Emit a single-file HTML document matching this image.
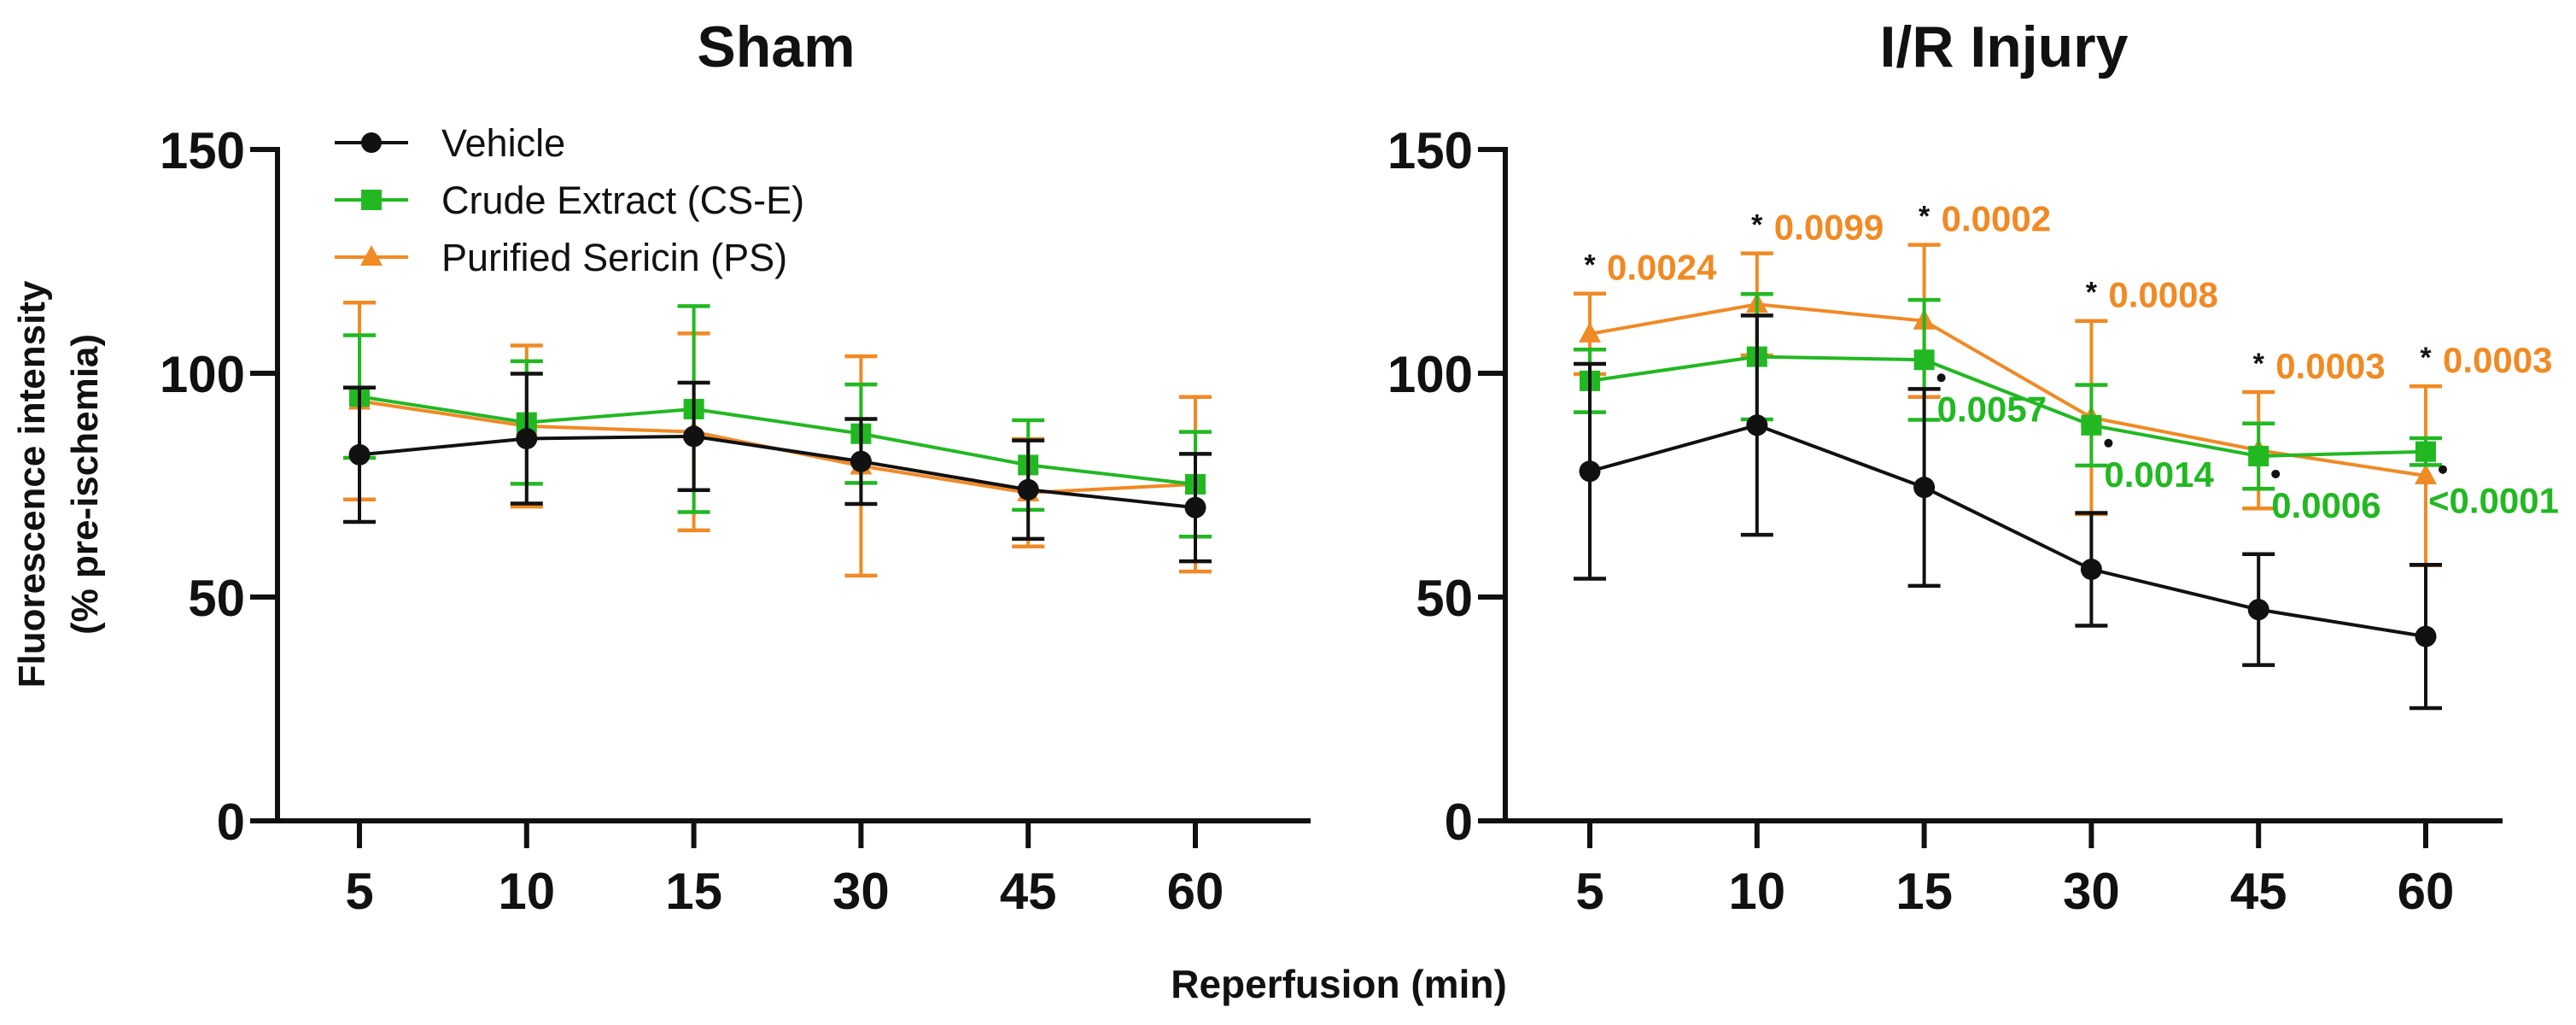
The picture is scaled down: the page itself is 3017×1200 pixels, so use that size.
<!DOCTYPE html>
<html><head><meta charset="utf-8"><style>
html,body{margin:0;padding:0;background:#fff;}
svg{display:block;font-family:"Liberation Sans",sans-serif;}
</style></head><body>
<svg id="chart" width="3017" height="1200" viewBox="0 0 3017 1200" xmlns="http://www.w3.org/2000/svg"></svg>
<script>
const categories = ["5","10","15","30","45","60"];
const yTicks = [0,50,100,150];
const shamVehicle = [81.8,85.4,85.9,80.3,74,70];
const shamVehicleSD = [15,14.5,12,9.5,11,12];
const shamCSE = [94.8,89,92,86.5,79.5,75.2];
const shamCSESD = [13.7,13.7,23,11,10,11.7];
const shamPS = [93.8,88.2,86.9,79.3,73.3,75.2];
const shamPSSD = [22,18,22,24.5,12,19.5];
const irVehicle = [78.1,88.4,74.5,56.2,47.2,41.2];
const irVehicleSD = [24,24.5,22,12.6,12.4,16];
const irCSE = [98.3,103.7,103,88.4,81.5,82.5];
const irCSESD = [7,14,13.4,9,7.3,3];
const irPS = [108.8,115.4,111.7,90.1,82.8,77.1];
const irPSSD = [9,11.4,17,21.6,13,20];
const psPvals = ["0.0024","0.0099","0.0002","0.0008","0.0003","0.0003"];
const csePvals = ["","","0.0057","0.0014","0.0006","<0.0001"];

const NS="http://www.w3.org/2000/svg";
const svg=document.getElementById('chart');
const BLACK="#111", GREEN="#22b822", ORANGE="#f08a24";
function mk(tag,attrs,parent){const e=document.createElementNS(NS,tag);for(const k in attrs)e.setAttribute(k,attrs[k]);(parent||svg).appendChild(e);return e;}
function yScale(v){return 961-(v/150)*(961-175);}

function panel(name,axisX,catX0,axisEnd,title,titleX,series){
  const g=mk('g',{});
  
  
  const xS=i=>catX0+i*195.8;
  const t=mk('text',{x:titleX,y:78,'text-anchor':'middle','font-size':68,'font-weight':'bold',fill:BLACK},g);
  t.textContent=title;
  
  
  const ya=mk('line',{x1:axisX,y1:172,x2:axisX,y2:964,stroke:BLACK,'stroke-width':6},g);
  
  
  const xa=mk('line',{x1:axisX-32,y1:961,x2:axisEnd,y2:961,stroke:BLACK,'stroke-width':6},g);
  
  
  yTicks.forEach(v=>{
    const y=yScale(v);
    mk('line',{x1:axisX-32,y1:y,x2:axisX,y2:y,stroke:BLACK,'stroke-width':6},g);
    const l=mk('text',{x:axisX-38,y:y+22,'text-anchor':'end','font-size':60,'font-weight':'bold',fill:BLACK},g);
    l.textContent=v;
    
    
  });
  categories.forEach((c,i)=>{
    const x=xS(i);
    mk('line',{x1:x,y1:961,x2:x,y2:993,stroke:BLACK,'stroke-width':6},g);
    const l=mk('text',{x:x,y:1064,'text-anchor':'middle','font-size':60,'font-weight':'bold',fill:BLACK},g);
    l.textContent=c;
    
    
  });
  series.forEach(s=>{
    const sg=mk('g',{},g);
    
    
    s.vals.forEach((v,i)=>{
      const x=xS(i),yt=yScale(v+s.sd[i]),yb=yScale(v-s.sd[i]);
      mk('line',{x1:x,y1:yt,x2:x,y2:yb,stroke:s.color,'stroke-width':4},sg);
      mk('line',{x1:x-19,y1:yt,x2:x+19,y2:yt,stroke:s.color,'stroke-width':4.5},sg);
      mk('line',{x1:x-19,y1:yb,x2:x+19,y2:yb,stroke:s.color,'stroke-width':4.5},sg);
    });
    mk('polyline',{points:s.vals.map((v,i)=>xS(i)+','+yScale(v)).join(' '),fill:'none',stroke:s.color,'stroke-width':4},sg);
    s.vals.forEach((v,i)=>{
      const x=xS(i),y=yScale(v);let m;
      if(s.marker==='circle') m=mk('circle',{cx:x,cy:y,r:12.5,fill:s.color},sg);
      else if(s.marker==='square') m=mk('rect',{x:x-12,y:y-12,width:24,height:24,fill:s.color},sg);
      else m=mk('polygon',{points:`${x},${y-14} ${x+13},${y+10} ${x-13},${y+10}`,fill:s.color},sg);
      
      
    });
  });
  return {g,xS};
}

const left=panel('sham-panel',325,421,1535,'Sham',909,[
  {name:'sham-ps-series',vals:shamPS,sd:shamPSSD,color:ORANGE,marker:'tri'},
  {name:'sham-cse-series',vals:shamCSE,sd:shamCSESD,color:GREEN,marker:'square'},
  {name:'sham-vehicle-series',vals:shamVehicle,sd:shamVehicleSD,color:BLACK,marker:'circle'}
]);
const right=panel('ir-panel',1763,1862,2931,'I/R Injury',2347,[
  {name:'ir-ps-series',vals:irPS,sd:irPSSD,color:ORANGE,marker:'tri'},
  {name:'ir-cse-series',vals:irCSE,sd:irCSESD,color:GREEN,marker:'square'},
  {name:'ir-vehicle-series',vals:irVehicle,sd:irVehicleSD,color:BLACK,marker:'circle'}
]);

const ann=mk('g',{});


psPvals.forEach((p,i)=>{
  const x=right.xS(i),y=yScale(irPS[i]+irPSSD[i])-30;
  const st=mk('text',{x:x,y:y+8,'text-anchor':'middle','font-size':34,'font-weight':'bold',fill:BLACK},ann);
  st.textContent='*';
  
  
  const t=mk('text',{x:x+20,y:y+14,'font-size':42,'font-weight':'bold',fill:ORANGE},ann);
  t.textContent=p;
  
  
});
csePvals.forEach((p,i)=>{
  if(!p) return;
  const x=right.xS(i),y=yScale(irCSE[i]);
  const d=mk('circle',{cx:x+20,cy:y+21,r:5,fill:BLACK},ann);
  
  
  const t=mk('text',{x:x+(i===5?3:15),y:y+72,'font-size':42,'font-weight':'bold',fill:GREEN},ann);
  t.textContent=p;
  
  
});

const leg=mk('g',{});


[["Vehicle",BLACK,'circle',167],["Crude Extract (CS-E)",GREEN,'square',234],["Purified Sericin (PS)",ORANGE,'tri',301]].forEach(([lab,c,m,y])=>{
  const e=mk('g',{},leg);
  
  
  mk('line',{x1:392,y1:y,x2:478,y2:y,stroke:c,'stroke-width':4},e);
  if(m==='circle') mk('circle',{cx:435,cy:y,r:12,fill:c},e);
  else if(m==='square') mk('rect',{x:423,y:y-12,width:24,height:24,fill:c},e);
  else mk('polygon',{points:`435,${y-14} 448,${y+10} 422,${y+10}`,fill:c},e);
  const t=mk('text',{x:517,y:y+16,'font-size':45,fill:BLACK},e);
  t.textContent=lab;
});

const yt=mk('text',{transform:'translate(52,567) rotate(-90)','text-anchor':'middle','font-size':44,'font-weight':'bold',fill:BLACK});
yt.textContent='Fluorescence intensity';


const yt2=mk('text',{transform:'translate(114,567) rotate(-90)','text-anchor':'middle','font-size':44,'font-weight':'bold',fill:BLACK});
yt2.textContent='(% pre-ischemia)';


const xt=mk('text',{x:1568,y:1168,'text-anchor':'middle','font-size':46,'font-weight':'bold',fill:BLACK});
xt.textContent='Reperfusion (min)';


</script>
</body></html>
